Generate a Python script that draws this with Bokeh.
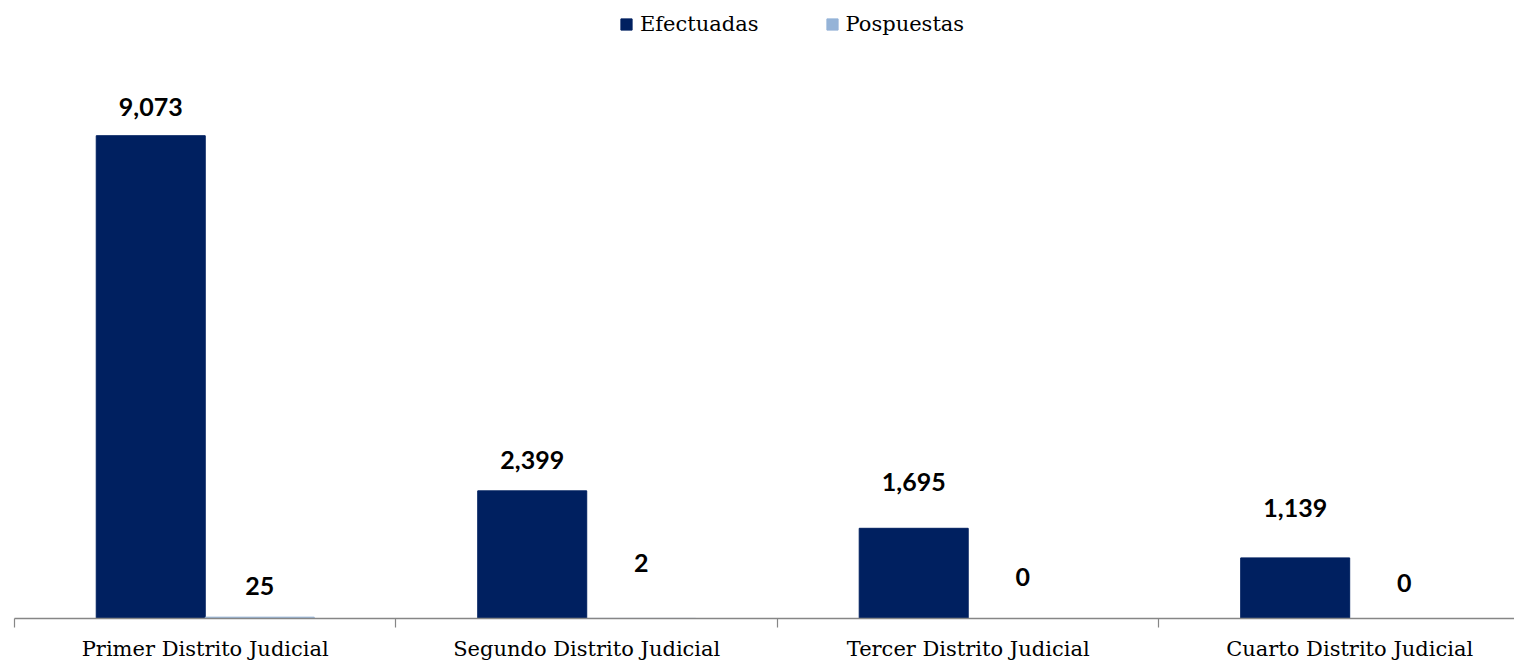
import numpy as np
from bokeh.plotting import figure
from bokeh.models import (Range1d, LinearAxis, FixedTicker, Legend, LegendItem,
                          ColumnDataSource)
from bokeh.core.properties import value
from bokeh.embed import file_html
from bokeh.resources import INLINE

# ---- data ----
categories = ["Primer Distrito Judicial", "Segundo Distrito Judicial",
              "Tercer Distrito Judicial", "Cuarto Distrito Judicial"]
efectuadas = [9073, 2399, 1695, 1139]
pospuestas = [25, 2, 0, 0]
series_names = ["Efectuadas", "Pospuestas"]

# ---- style ----
colors = ["#002060", "#95B3D7"]
lift_efect = [29, 31, 46, 50]   # label distance above bar (px)
lift_posp = [31, 55, 42, 36]
serif = "DejaVu Serif"
bold_font = "Lato"

n = len(categories)
idx = np.arange(n)
bar_w = 2 / 7
centers = idx + 0.5
bounds = np.arange(n + 1)

src_e = ColumnDataSource(dict(x=centers - 1 / 7, top=efectuadas,
                              lab=[f"{v:,}" for v in efectuadas],
                              off=[-v for v in lift_efect]))
src_p = ColumnDataSource(dict(x=centers + 1 / 7, top=pospuestas,
                              lab=[f"{v:,}" for v in pospuestas],
                              off=[-v for v in lift_posp]))

p = figure(width=1514, height=663, output_backend="svg", toolbar_location=None,
           x_range=Range1d(0, 3.932), y_range=Range1d(0, 11614),
           x_axis_location=None, y_axis_location=None,
           min_border_left=14, min_border_right=0, min_border_top=0,
           min_border_bottom=43)
p.outline_line_color = None
p.grid.visible = False
p.background_fill_color = "white"

r1 = p.vbar(x="x", top="top", width=bar_w, source=src_e, color=colors[0])
r2 = p.vbar(x="x", top="top", width=bar_w, source=src_p, color=colors[1])

for src in (src_e, src_p):
    p.text(x="x", y="top", text="lab", source=src, y_offset="off",
           text_align="center", text_baseline="middle",
           text_font=value(bold_font), text_font_style="bold",
           text_font_size="25px", text_color="#000000")

# category axis: labels at centres, tick marks (minor) at category boundaries
xaxis = LinearAxis(ticker=FixedTicker(ticks=list(centers), minor_ticks=list(bounds)))
xaxis.major_label_overrides = {float(c): name for c, name in zip(centers, categories)}
xaxis.axis_line_color = "#868686"
xaxis.axis_line_width = 1.5
xaxis.major_tick_line_color = None
xaxis.major_tick_out = 9
xaxis.major_tick_in = 0
xaxis.minor_tick_line_color = "#868686"
xaxis.minor_tick_line_width = 1.2
xaxis.minor_tick_out = 9
xaxis.minor_tick_in = 0
xaxis.major_label_text_font = serif
xaxis.major_label_text_font_size = "21px"
xaxis.major_label_text_color = "#000000"
xaxis.major_label_standoff = 9
p.add_layout(xaxis, "below")

legend = Legend(items=[LegendItem(label=series_names[0], renderers=[r1]),
                       LegendItem(label=series_names[1], renderers=[r2])],
                orientation="horizontal", location=(605, 582),
                glyph_width=14, glyph_height=14, label_standoff=7, spacing=66,
                padding=0, margin=0, border_line_color=None,
                background_fill_alpha=0,
                label_text_font=serif, label_text_font_size="21px",
                label_text_color="#000000")
p.add_layout(legend)

open("out.html", "w").write(file_html(p, INLINE))
